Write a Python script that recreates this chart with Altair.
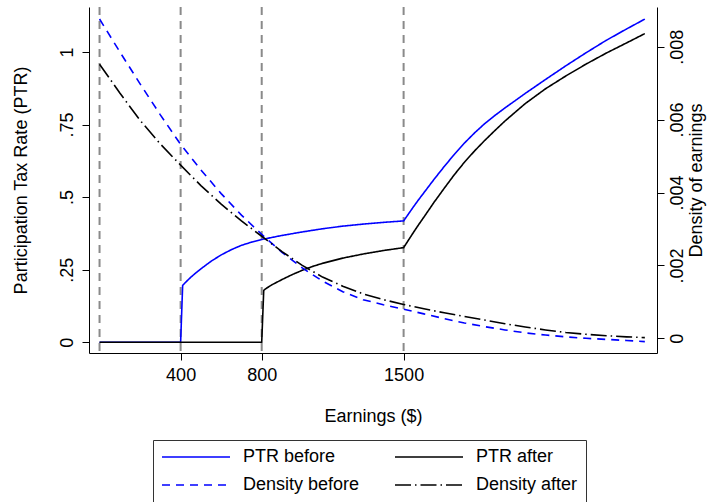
import altair as alt
import pandas as pd

# ---------------- data ----------------
series_names = ["PTR before", "Density before", "PTR after", "Density after"]
series_colors = ["#0000ff", "#0000ff", "#000000", "#000000"]
series_dashes = [[1, 0], [8, 6], [1, 0], [16, 4, 1.5, 4]]

ptr_before_x = [0, 100, 200, 300, 400, 410, 425, 450, 475, 500, 550, 600, 650, 700, 750,
                800, 850, 900, 1000, 1100, 1200, 1300, 1400, 1500, 1525, 1550, 1575, 1600,
                1650, 1700, 1750, 1800, 1850, 1900, 1950, 2000, 2100, 2200, 2300, 2400,
                2500, 2600, 2690]
ptr_before_y = [0, 0, 0, 0, 0, 0.196, 0.207, 0.224, 0.239, 0.253, 0.279, 0.301, 0.319, 0.334, 0.345,
                0.354, 0.361, 0.368, 0.380, 0.391, 0.400, 0.407, 0.413, 0.418, 0.443, 0.468, 0.492, 0.515,
                0.561, 0.605, 0.647, 0.686, 0.721, 0.753, 0.781, 0.807, 0.857, 0.905, 0.952, 0.997,
                1.040, 1.079, 1.113]

ptr_after_x = [0, 100, 200, 300, 400, 500, 600, 700, 800, 810, 825, 850, 900, 950, 1000,
               1050, 1100, 1200, 1300, 1400, 1500, 1525, 1550, 1575, 1600, 1650, 1700, 1750,
               1800, 1850, 1900, 1950, 2000, 2100, 2200, 2300, 2400, 2500, 2600, 2690]
ptr_after_y = [0, 0, 0, 0, 0, 0, 0, 0, 0, 0.179, 0.187, 0.198, 0.216, 0.233, 0.248,
               0.261, 0.272, 0.290, 0.304, 0.316, 0.326, 0.353, 0.380, 0.406, 0.431, 0.482, 0.530, 0.577,
               0.620, 0.659, 0.695, 0.729, 0.762, 0.822, 0.873, 0.917, 0.958, 0.996, 1.031, 1.063]

dens_x = [0, 100, 200, 300, 400, 500, 600, 700, 800, 900, 1000, 1100, 1200, 1300,
          1400, 1500, 1600, 1700, 1800, 1900, 2000, 2100, 2200, 2300, 2400, 2500, 2600, 2690]
dens_before_y = [0.00876, 0.00786, 0.00698, 0.00613, 0.00532, 0.00462, 0.00397, 0.00338,
                 0.00285, 0.00236, 0.00193, 0.00157, 0.00128, 0.00106, 0.00092, 0.00080,
                 0.00067, 0.00054, 0.00042, 0.00032, 0.00023, 0.00015, 0.00009, 0.00004,
                 0.00000, -0.00003, -0.00006, -0.00009]
dens_after_y = [0.00752, 0.00673, 0.00598, 0.00533, 0.00475, 0.00419, 0.00368, 0.00322,
                0.00280, 0.00238, 0.00200, 0.00168, 0.00143, 0.00122, 0.00106, 0.00093,
                0.00081, 0.00070, 0.00060, 0.00050, 0.00040, 0.00031, 0.00023, 0.00016,
                0.00011, 0.00007, 0.00004, 0.00002]

vline_x = [0, 400, 800, 1500]

earn_ticks = [400, 800, 1500]
ptr_ticks = [0, 0.25, 0.5, 0.75, 1]
ptr_tick_labels = ["0", ".25", ".5", ".75", "1"]
dens_ticks = [0, 0.002, 0.004, 0.006, 0.008]
dens_tick_labels = ["0", ".002", ".004", ".006", ".008"]

# ---------------- tables ----------------
rows = []
for x, y in zip(ptr_before_x, ptr_before_y):
    rows.append({"earnings": x, "value": y, "series": "PTR before"})
for x, y in zip(ptr_after_x, ptr_after_y):
    rows.append({"earnings": x, "value": y, "series": "PTR after"})
for x, y in zip(dens_x, dens_before_y):
    rows.append({"earnings": x, "value": y, "series": "Density before"})
for x, y in zip(dens_x, dens_after_y):
    rows.append({"earnings": x, "value": y, "series": "Density after"})
df = pd.DataFrame(rows)
vdf = pd.DataFrame({"earnings": vline_x})


def label_expr(vals, labels):
    expr = "''"
    for v, l in reversed(list(zip(vals, labels))):
        expr = f"abs(datum.value - ({v})) < 1e-9 ? '{l}' : ({expr})"
    return expr


FONT = "Liberation Sans"
FS = 18
W, H = 568, 346

x_enc = alt.X(
    "earnings:Q",
    scale=alt.Scale(domain=[-52, 2750], nice=False, zero=False),
    axis=alt.Axis(
        values=earn_ticks, title="Earnings ($)", grid=False, tickSize=7,
        labelBaseline="middle", labelPadding=15, labelFlush=False, labelOverlap=False,
        format="d", titleX=284, titleY=63.5, titleBaseline="middle", titleAlign="center",
    ),
)

legend = alt.Legend(
    title=None, orient="none", legendX=64, legendY=433, columns=2, gridAlign="all",
    symbolType="stroke", symbolSize=4624, symbolStrokeWidth=1.6, labelOffset=12,
    columnPadding=34, rowPadding=10, padding=8, strokeColor="#333333",
    clipHeight=18, labelLimit=0, labelFontSize=FS, labelFont=FONT,
    labelBaseline="middle", symbolOffset=0,
)
color_enc = alt.Color("series:N", scale=alt.Scale(domain=series_names, range=series_colors), legend=legend)
dash_enc = alt.StrokeDash("series:N", scale=alt.Scale(domain=series_names, range=series_dashes), legend=legend)

vlines = alt.Chart(vdf).mark_rule(color="#8a8a8a", strokeWidth=2, strokeDash=[8, 6]).encode(x=x_enc)

ptr = alt.Chart(df).transform_filter(
    alt.FieldOneOfPredicate(field="series", oneOf=["PTR before", "PTR after"])
).mark_line(strokeWidth=1.6).encode(
    x=x_enc,
    y=alt.Y(
        "value:Q",
        scale=alt.Scale(domain=[-0.0368, 1.1546], nice=False, zero=False),
        axis=alt.Axis(
            orient="left", values=ptr_ticks, labelExpr=label_expr(ptr_ticks, ptr_tick_labels),
            title="Participation Tax Rate (PTR)", grid=False, tickSize=7,
            labelAngle=270, labelAlign="center", labelBaseline="middle", labelPadding=15,
            labelFlush=False, labelOverlap=False,
            titleAngle=270, titleX=-67.5, titleY=173, titleAlign="center", titleBaseline="middle",
        ),
    ),
    color=color_enc,
    strokeDash=dash_enc,
)

dens = alt.Chart(df).transform_filter(
    alt.FieldOneOfPredicate(field="series", oneOf=["Density before", "Density after"])
).mark_line(strokeWidth=1.6).encode(
    x=x_enc,
    y=alt.Y(
        "value:Q",
        scale=alt.Scale(domain=[-0.000403, 0.009089], nice=False, zero=False),
        axis=alt.Axis(
            orient="right", values=dens_ticks, labelExpr=label_expr(dens_ticks, dens_tick_labels),
            title="Density of earnings", grid=False, tickSize=7,
            labelAngle=270, labelAlign="center", labelBaseline="middle", labelPadding=13,
            labelFlush=False, labelOverlap=False,
            titleAngle=270, titleX=39, titleY=173, titleAlign="center", titleBaseline="middle",
        ),
    ),
    color=color_enc,
    strokeDash=dash_enc,
)

chart = alt.layer(vlines, ptr, dens).resolve_scale(y="independent").properties(
    width=W, height=H,
    autosize=alt.AutoSizeParams(type="none"),
    padding={"left": 89, "top": 7, "right": 50, "bottom": 149},
).configure(font=FONT).configure_view(stroke=None).configure_axis(
    labelFontSize=FS, titleFontSize=FS, titleFontWeight="normal", labelFont=FONT, titleFont=FONT,
    domainColor="#000000", tickColor="#000000", labelColor="#000000", titleColor="#000000",
    domainWidth=1, tickWidth=1,
).configure_legend(labelColor="#000000")

chart.save("out.html", embed_options={"renderer": "svg", "actions": False})
